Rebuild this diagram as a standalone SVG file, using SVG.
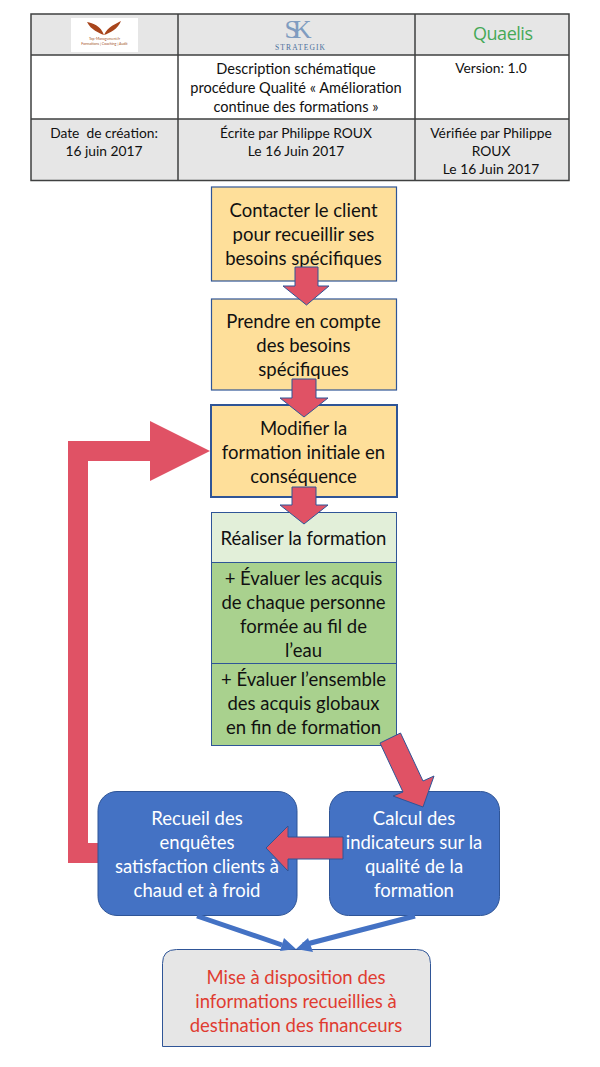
<svg xmlns="http://www.w3.org/2000/svg" width="600" height="1067" viewBox="0 0 600 1067">
<style>
text{font-family:"Lato","Open Sans",sans-serif;text-anchor:middle}
.t{font-size:14.6px;fill:#111;white-space:pre}
.b{font-size:13.8px;fill:#111;white-space:pre}
.n{font-size:18.5px;fill:#111}
.w{font-size:18.5px;fill:#fff}
.r{font-size:18.5px;fill:#e03c31}
.y{fill:#fedf9a;stroke:#2f5597;stroke-width:1.2}
.a{fill:#e05265;stroke:#2f5597;stroke-width:1}
.line{fill:none;stroke:#3f4040;stroke-width:1.5}
.s{font-size:3.6px;fill:#a5522a}
</style>
<rect width="600" height="1067" fill="#fff"/>
<g id="table">
<rect x="31" y="14" width="538" height="41" fill="#e6e6e6"/>
<rect x="31" y="119" width="538" height="62" fill="#e6e6e6"/>
<path class="line" d="M31 14H569V180.500H31ZM31 55H569M31 119H569M178 14V180.500M415 14V180.500"/>
</g>
<g id="logo-top-management">
<rect x="71" y="18" width="67" height="34" fill="#fff"/>
<path d="M87 22C93 23 101 26 104 35C99 33 91 30 87 22ZM121 21C116 24 108 26 104 35C110 33 118 29 121 21Z" fill="#a8451c"/>
<text class="s" x="104.500" y="40">Top-Management.fr</text>
<text class="s" x="104.500" y="45">Formations | Coaching | Audit</text>
</g>
<g id="logo-strategik">
<text x="295" y="37.500" style="font-family:'Liberation Serif',serif;font-size:26px;fill:#7f9cc0;letter-spacing:-6px">SK</text>
<text x="300" y="50" style="font-family:'Liberation Serif',serif;font-size:7.5px;fill:#4a6f9c" textLength="50">STRATEGIK</text>
</g>
<g id="logo-quaelis">
<text x="503" y="40" textLength="60" style="font-family:'Open Sans',sans-serif;font-size:18px;fill:#45a957">Quaelis</text>
</g>
<g id="table-text">
<text class="t" x="296" y="74">Description schématique</text>
<text class="t" x="296" y="93">procédure Qualité « Amélioration</text>
<text class="t" x="296" y="112">continue des formations »</text>
<text class="b" x="491" y="73">Version: 1.0</text>
<text class="b" x="104" y="138">Date  de création:</text>
<text class="b" x="104" y="156">16 juin 2017</text>
<text class="b" x="296" y="138">Écrite par Philippe ROUX</text>
<text class="b" x="296" y="156">Le 16 Juin 2017</text>
<text class="b" x="491" y="138">Vérifiée par Philippe</text>
<text class="b" x="491" y="156">ROUX</text>
<text class="b" x="491" y="174">Le 16 Juin 2017</text>
</g>
<g id="node-contacter">
<rect class="y" x="211.500" y="187" width="185" height="94"/>
<text class="n" x="303.500" y="217">Contacter le client</text>
<text class="n" x="303.500" y="241">pour recueillir ses</text>
<text class="n" x="303.500" y="265">besoins spécifiques</text>
</g>
<g id="node-prendre">
<rect class="y" x="211.500" y="299" width="185" height="91"/>
<text class="n" x="303.500" y="328">Prendre en compte</text>
<text class="n" x="303.500" y="352">des besoins</text>
<text class="n" x="303.500" y="376">spécifiques</text>
</g>
<g id="node-modifier">
<rect class="y" x="211" y="405" width="186" height="92" style="stroke-width:2"/>
<text class="n" x="303.500" y="435">Modifier la</text>
<text class="n" x="303.500" y="459">formation initiale en</text>
<text class="n" x="303.500" y="483">conséquence</text>
</g>
<g id="node-realiser">
<rect x="211.500" y="512.500" width="185" height="50" fill="#e2efd9" stroke="#2f5597" stroke-width="1"/>
<text class="n" x="303.500" y="545">Réaliser la formation</text>
</g>
<g id="node-evaluer-acquis">
<rect x="211.500" y="562.500" width="185" height="101" fill="#a9d18e" stroke="#2f5597" stroke-width="1"/>
<text class="n" x="303.500" y="585">+ Évaluer les acquis</text>
<text class="n" x="303.500" y="609">de chaque personne</text>
<text class="n" x="303.500" y="633">formée au fil de</text>
<text class="n" x="303.500" y="657">l’eau</text>
</g>
<g id="node-evaluer-ensemble">
<rect x="211.500" y="663.500" width="185" height="82" fill="#a9d18e" stroke="#2f5597" stroke-width="1"/>
<text class="n" x="303.500" y="686">+ Évaluer l’ensemble</text>
<text class="n" x="303.500" y="710">des acquis globaux</text>
<text class="n" x="303.500" y="734">en fin de formation</text>
</g>
<g id="connector-feedback">
<path d="M210 451L150 421V441H68V863H105V843H88V461H150V481Z" fill="#e05265"/>
</g>
<g id="node-recueil">
<rect x="98" y="791.500" width="199" height="124" rx="19" fill="#4472c4" stroke="#2f5597" stroke-width="1"/>
<text class="w" x="197" y="825">Recueil des</text>
<text class="w" x="197" y="849">enquêtes</text>
<text class="w" x="197" y="873">satisfaction clients à</text>
<text class="w" x="197" y="897">chaud et à froid</text>
</g>
<g id="node-calcul">
<rect x="329.500" y="791.500" width="170" height="124" rx="19" fill="#4472c4" stroke="#2f5597" stroke-width="1"/>
<text class="w" x="414" y="825">Calcul des</text>
<text class="w" x="414" y="849">indicateurs sur la</text>
<text class="w" x="414" y="873">qualité de la</text>
<text class="w" x="414" y="897">formation</text>
</g>
<g id="node-mise">
<path d="M176.500 949.500H416.500Q430.500 949.500 430.500 963.500V1046.500H162.500V963.500Q162.500 949.500 176.500 949.500Z" fill="#e6e6e6" stroke="#2f5597" stroke-width="1"/>
<text class="r" x="296" y="984">Mise à disposition des</text>
<text class="r" x="296" y="1008">informations recueillies à</text>
<text class="r" x="296" y="1032">destination des financeurs</text>
</g>
<g id="connectors">
<path class="a" d="M295 267H318V286H329L306.500 305L283 286H295Z"/>
<path class="a" d="M292 379H316V398H328L304 417L280 398H292Z"/>
<path class="a" d="M292 487H316V505H328L304 524L280 505H292Z"/>
<path class="a" d="M400.500 733L380 743L403 792L393 796L423 807L434 776L423 781Z"/>
<path class="a" d="M343 837H288V826L266 848L288 871V859H343Z"/>
<path d="M197 916L282 945M415 916L303 945" fill="none" stroke="#4472c4" stroke-width="5"/>
<path d="M296 949L280 951L284 938ZM296 949L313 952L308 938Z" fill="#4472c4"/>
</g>
</svg>
